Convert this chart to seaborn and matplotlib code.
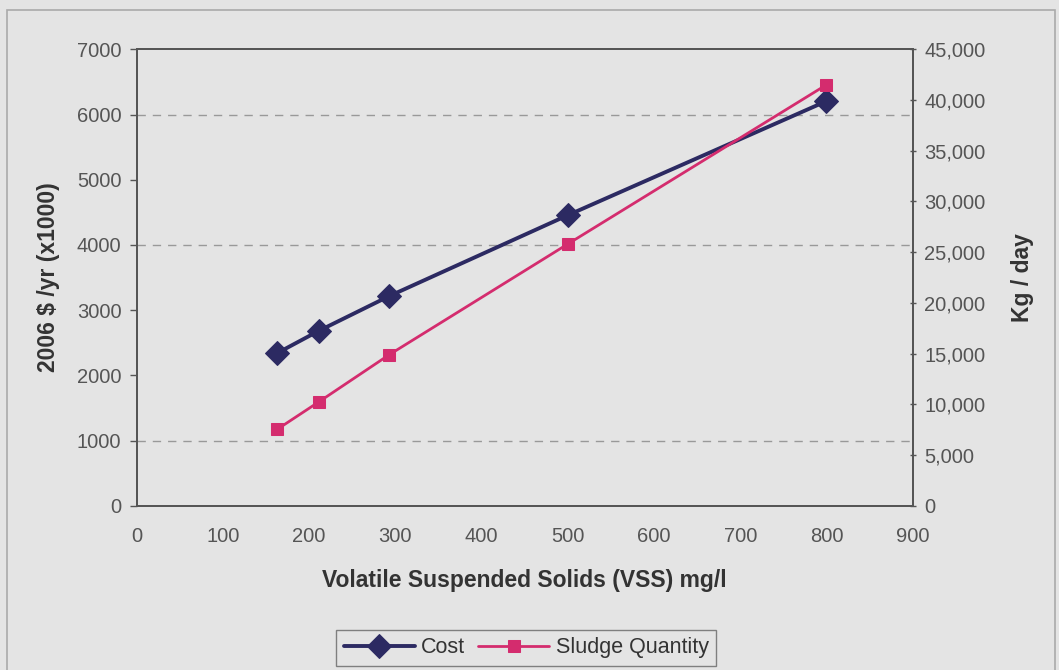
import matplotlib
matplotlib.use("Agg")
import matplotlib.pyplot as plt
import seaborn as sns
import pandas as pd
from matplotlib.patches import Rectangle

vss = [163, 211, 293, 500, 800]
cost = [2340, 2680, 3215, 4455, 6205]
sludge = [7530, 10220, 14890, 25800, 41500]
left_ticks = [0, 1000, 2000, 3000, 4000, 5000, 6000, 7000]
right_ticks = [0, 5000, 10000, 15000, 20000, 25000, 30000, 35000, 40000, 45000]
x_ticks = [0, 100, 200, 300, 400, 500, 600, 700, 800, 900]
grid_levels = [1000, 4000, 6000]

sns.set_theme(style="white")
plt.rcParams['font.family'] = ['Liberation Sans', 'DejaVu Sans']

bg = '#e4e4e4'
cost_c = '#2c2a62'
sludge_c = '#d42c6e'
tick_c = '#555555'
lab_c = '#333333'

df = pd.DataFrame({'vss': vss, 'cost': cost, 'sludge': sludge})

fig = plt.figure(figsize=(10.59, 6.70), dpi=100, facecolor=bg)
ax = fig.add_axes([0.129, 0.2452, 0.7328, 0.6812])
ax.set_facecolor(bg)
ax2 = ax.twinx()

for lv in grid_levels:
    ax.axhline(lv, color='#999999', lw=1.0, ls=(0, (6, 5)), zorder=0)

sns.lineplot(data=df, x='vss', y='cost', ax=ax, color=cost_c, lw=2.8,
             marker='D', markersize=12, markeredgecolor=cost_c, label='Cost', legend=False)
sns.lineplot(data=df, x='vss', y='sludge', ax=ax2, color=sludge_c, lw=2.0,
             marker='s', markersize=8, markeredgecolor=sludge_c, label='Sludge Quantity', legend=False)

ax.set_xlim(0, 900)
ax.set_ylim(0, 7000)
ax2.set_ylim(0, 45000)
ax.set_xticks(x_ticks)
ax.set_yticks(left_ticks)
ax2.set_yticks(right_ticks)
ax2.set_yticklabels([f"{v:,}" for v in right_ticks])

for a in (ax, ax2):
    for s in a.spines.values():
        s.set_color('#555555')
        s.set_linewidth(1.3)
ax.tick_params(axis='both', colors='#555555', labelcolor=tick_c, labelsize=14.5,
               length=5, width=1.0, direction='out', pad=6)
ax.tick_params(axis='x', pad=10)
ax2.tick_params(axis='y', colors='#555555', labelcolor=tick_c, labelsize=14.5,
                length=5, width=1.0, direction='inout', pad=6)

ax.set_xlabel('Volatile Suspended Solids (VSS) mg/l', fontsize=16.5, fontweight='bold',
              color=lab_c, labelpad=17)
ax.set_ylabel('2006 $ /yr (x1000)', fontsize=16.5, fontweight='bold', color=lab_c, labelpad=12)
ax2.set_ylabel('Kg / day', fontsize=16.5, fontweight='bold', color=lab_c, labelpad=18)

h1, l1 = ax.get_legend_handles_labels()
h2, l2 = ax2.get_legend_handles_labels()
leg = fig.legend(h1 + h2, l1 + l2, loc='center', bbox_to_anchor=(0.497, 0.033), ncol=2,
                 fontsize=15.5, frameon=True, fancybox=False, edgecolor='#666666',
                 facecolor=bg, handlelength=3.3, handletextpad=0.3, columnspacing=0.6,
                 borderpad=0.35)
leg.get_frame().set_linewidth(1.0)
for t in leg.get_texts():
    t.set_color(lab_c)

fig.patches.append(Rectangle((0.0066, -0.05), 0.99, 1.035, transform=fig.transFigure,
                             fill=False, edgecolor='#aaaaaa', lw=1.2))

fig.savefig('out.png', dpi=100, facecolor=bg)
